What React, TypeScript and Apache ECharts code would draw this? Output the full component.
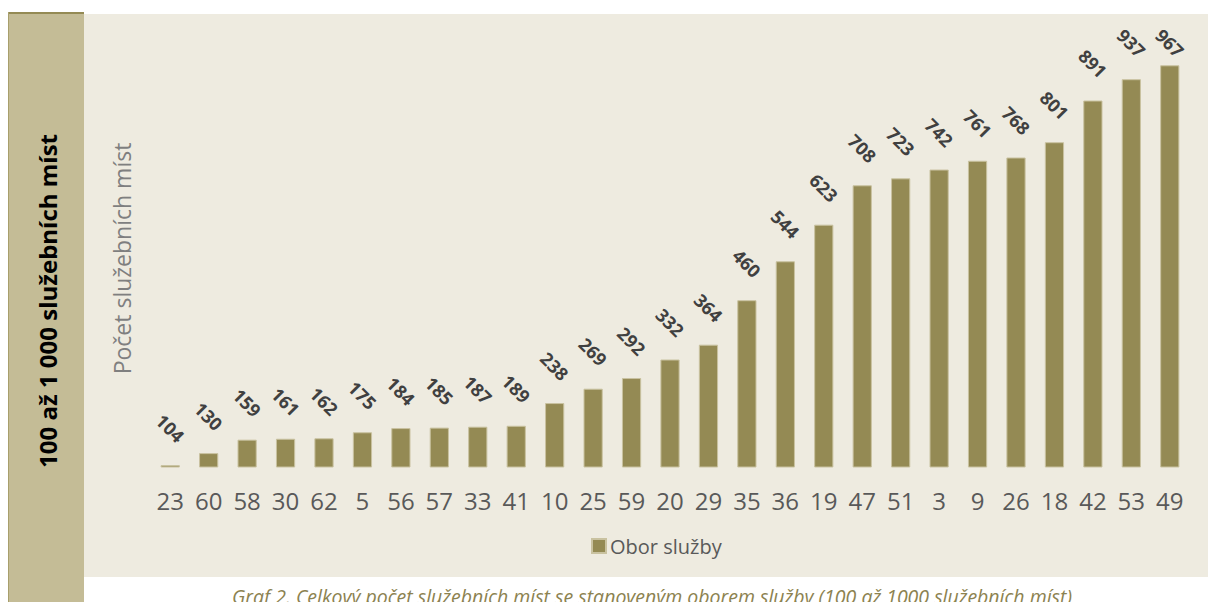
import React, { useEffect, useRef } from "react";
import * as echarts from "echarts";

const categories = ["23", "60", "58", "30", "62", "5", "56", "57", "33", "41", "10", "25", "59", "20", "29", "35", "36", "19", "47", "51", "3", "9", "26", "18", "42", "53", "49"];
const values = [104, 130, 159, 161, 162, 175, 184, 185, 187, 189, 238, 269, 292, 332, 364, 460, 544, 623, 708, 723, 742, 761, 768, 801, 891, 937, 967];
const seriesName = "Obor služby";
const yAxisName = "Počet služebních míst";
const sideTitle = "100 až 1 000 služebních míst";
const caption = "Graf 2. Celkový počet služebních míst se stanoveným oborem služby (100 až 1000 služebních míst)";

const FONT = "'Open Sans', 'Noto Sans', sans-serif";
const BAR = "#948a54";
const LABEL_GAP = 37;
const LABEL_TOP_LIMIT = 43;

export default function App() {
  const ref = useRef<HTMLDivElement>(null);
  useEffect(() => {
    if (!ref.current) return;
    const chart = echarts.init(ref.current, undefined, { renderer: "svg" });
    const option: any = {
      animation: false,
      backgroundColor: "#ffffff",
      textStyle: { fontFamily: FONT },
      graphic: [
        { type: "rect", z: -10, shape: { x: 84, y: 14, width: 1124, height: 563 }, style: { fill: "#eeebe0" } },
        { type: "rect", z: -10, shape: { x: 8, y: 14, width: 76, height: 588 }, style: { fill: "#c4bc96" } },
        { type: "rect", z: -9, shape: { x: 8, y: 12, width: 76, height: 2 }, style: { fill: BAR } },
        { type: "rect", z: -9, shape: { x: 8, y: 12, width: 1, height: 590 }, style: { fill: "#a89f6c" } },
        {
          type: "text",
          z: 10,
          x: 47,
          y: 301,
          rotation: Math.PI / 2,
          style: {
            text: sideTitle,
            fill: "#000000",
            font: `bold 24px ${FONT}`,
            align: "center",
            verticalAlign: "middle",
          },
        },
        {
          type: "text",
          z: 10,
          x: 652,
          y: 596,
          style: {
            text: caption,
            fill: "#8c8250",
            font: `italic 19.5px ${FONT}`,
            align: "center",
            verticalAlign: "middle",
          },
        },
      ],
      grid: { left: 151, right: 19, top: 50, bottom: 135, containLabel: false },
      legend: {
        show: true,
        top: 531,
        left: 586,
        icon: "rect",
        itemWidth: 14,
        itemHeight: 14,
        itemGap: 6,
        textStyle: { fontSize: 20, color: "#595959", fontFamily: FONT, padding: [0, 0, 0, -1] },
        data: [seriesName],
      },
      xAxis: {
        type: "category",
        data: categories,
        axisLine: { show: false },
        axisTick: { show: false },
        axisLabel: { fontSize: 24, color: "#595959", margin: 21, interval: 0, fontFamily: FONT },
      },
      yAxis: {
        type: "value",
        min: 100,
        max: 1000,
        splitLine: { show: false },
        axisLine: { show: false },
        axisTick: { show: false },
        axisLabel: { show: false },
        name: yAxisName,
        nameLocation: "middle",
        nameGap: 18,
        nameTextStyle: { fontSize: 23, color: "#7f7f7f", fontFamily: FONT },
      },
      series: [
        {
          name: seriesName,
          type: "bar",
          data: values,
          barWidth: "50%",
          itemStyle: { color: BAR, borderColor: "#c9c2a0", borderWidth: 1 },
          label: {
            show: true,
            position: "top",
            distance: LABEL_GAP,
            rotate: -45,
            align: "center",
            verticalAlign: "middle",
            fontSize: 18,
            fontWeight: "bold",
            color: "#404040",
            fontFamily: FONT,
          },
        },
      ],
    };
    chart.setOption(option);
    // keep labels inside the chart area near the top (as in the reference)
    const data = values.map((v, i) => {
      const p = chart.convertToPixel({ seriesIndex: 0 }, [i, v]) as number[];
      const top = p[1];
      const d = top - LABEL_GAP < LABEL_TOP_LIMIT ? top - LABEL_TOP_LIMIT : LABEL_GAP;
      return d === LABEL_GAP ? v : { value: v, label: { distance: d } };
    });
    chart.setOption({ series: [{ data }] });
    return () => chart.dispose();
  }, []);
  return (
    <div
      ref={ref}
      style={{ position: "absolute", left: 0, top: 0, width: 1208, height: 602 }}
    />
  );
}
